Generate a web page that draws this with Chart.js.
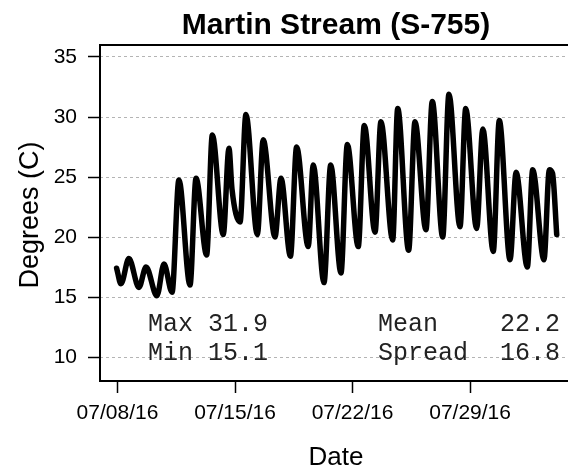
<!DOCTYPE html>
<html>
<head>
<meta charset="utf-8">
<script src="https://cdn.jsdelivr.net/npm/chart.js@4"></script>
<style>
  html, body { margin: 0; padding: 0; overflow: hidden; background: #fff; }
</style>
</head>
<body>
<canvas id="chart" width="576" height="470"></canvas>
<script>
// days since 07/08/16 00:00, read at each daily peak and trough
const dayOffsets = [
  -0.05, 0.21, 0.68, 1.28, 1.70, 2.35, 2.77, 3.25, 3.66, 4.32,
  4.68, 5.31, 5.65, 6.30, 6.64, 6.82, 7.30, 7.65, 8.33, 8.68,
  9.38, 9.74, 10.30, 10.67, 11.36, 11.66, 12.30, 12.70, 13.31, 13.69,
  14.34, 14.70, 15.34, 15.69, 16.39, 16.69, 17.34, 17.72, 18.37, 18.75,
  19.37, 19.74, 20.40, 20.74, 21.39, 21.76, 22.38, 22.74, 23.38, 23.74,
  24.41, 24.73, 25.40, 25.72, 25.91, 26.16
];
const temps = [
  17.4, 16.1, 18.2, 15.8, 17.5, 15.1, 17.75, 15.4, 24.75, 16.0,
  24.9, 18.5, 28.5, 20.2, 27.4, 24.0, 21.25, 30.2, 20.2, 28.1,
  20.0, 24.9, 18.4, 27.5, 19.2, 26.0, 16.2, 26.0, 17.0, 27.7,
  19.2, 29.3, 20.4, 29.6, 19.75, 30.7, 18.9, 29.6, 20.6, 31.3,
  20.0, 31.9, 20.85, 30.7, 20.7, 29.0, 18.8, 29.7, 18.1, 25.4,
  17.5, 25.6, 18.1, 25.6, 25.3, 20.2
];
const xTickDays = [0, 7, 14, 21];
const xTickLabels = ["07/08/16", "07/15/16", "07/22/16", "07/29/16"];
const yTicks = [10, 15, 20, 25, 30, 35];
const statNames = ["Max", "Min", "Mean", "Spread"];
const statValues = ["31.9", "15.1", "22.2", "16.8"];

const sans = "'Liberation Sans', Arial, sans-serif";
const mono = "'Liberation Mono', 'Courier New', monospace";

const textPlugin = {
  id: "texts",
  afterDatasetsDraw(chart) {
    const { ctx, chartArea: a } = chart;
    ctx.save();
    ctx.strokeStyle = "#000";
    ctx.lineWidth = 2;
    ctx.strokeRect(a.left, a.top, a.right - a.left, a.bottom - a.top);
    ctx.restore();
  },
  afterDraw(chart) {
    const { ctx } = chart;
    ctx.save();
    ctx.fillStyle = "#000";
    ctx.textAlign = "center";
    ctx.textBaseline = "alphabetic";
    ctx.font = "bold 30px " + sans;
    ctx.fillText("Martin Stream (S-755)", 336, 34);
    ctx.font = "26px " + sans;
    ctx.fillText("Date", 336, 465);
    ctx.save();
    ctx.translate(38, 215);
    ctx.rotate(-Math.PI / 2);
    ctx.font = "27px " + sans;
    ctx.fillText("Degrees (C)", 0, 0);
    ctx.restore();

    ctx.font = "25px " + mono;
    ctx.fillStyle = "#222";
    ctx.textAlign = "left";
    ctx.fillText(statNames[0], 148, 331);
    ctx.fillText(statNames[1], 148, 360);
    ctx.fillText(statNames[2], 378, 331);
    ctx.fillText(statNames[3], 378, 360);
    ctx.textAlign = "right";
    ctx.fillText(statValues[0], 268, 331);
    ctx.fillText(statValues[1], 268, 360);
    ctx.fillText(statValues[2], 560, 331);
    ctx.fillText(statValues[3], 560, 360);
    ctx.restore();
  }
};

new Chart(document.getElementById("chart"), {
  type: "line",
  data: {
    datasets: [{
      data: dayOffsets.map((d, i) => ({ x: d, y: temps[i] })),
      borderColor: "#000",
      borderWidth: 5.5,
      pointRadius: 0,
      cubicInterpolationMode: "monotone",
      borderJoinStyle: "round",
      borderCapStyle: "round"
    }]
  },
  options: {
    responsive: false,
    animation: false,
    layout: { padding: { top: 45, right: 4, left: 0, bottom: 0 } },
    plugins: { legend: { display: false }, tooltip: { enabled: false }, title: { display: false } },
    scales: {
      x: {
        type: "linear",
        min: -1.04,
        max: 27.07,
        afterBuildTicks: s => { s.ticks = xTickDays.map(v => ({ value: v })); },
        afterFit: s => { s.height = 89; },
        ticks: {
          callback: v => xTickLabels[xTickDays.indexOf(v)],
          font: { family: sans, size: 21 },
          color: "#000",
          padding: 8,
          maxRotation: 0,
          autoSkip: false
        },
        grid: { drawOnChartArea: false, drawTicks: true, tickLength: 12, tickColor: "#000", tickWidth: 1.5 },
        border: { display: false }
      },
      y: {
        min: 8,
        max: 36,
        afterBuildTicks: s => { s.ticks = yTicks.map(v => ({ value: v })); },
        afterFit: s => { s.width = 100; },
        ticks: {
          font: { family: sans, size: 21 },
          color: "#000",
          padding: 11
        },
        grid: { color: "#b4b4b4", lineWidth: 1, tickLength: 12, tickColor: "#000", tickWidth: 1.5, tickBorderDash: [] },
        border: { display: false, dash: [3, 3] }
      }
    }
  },
  plugins: [textPlugin]
});
</script>
</body>
</html>
